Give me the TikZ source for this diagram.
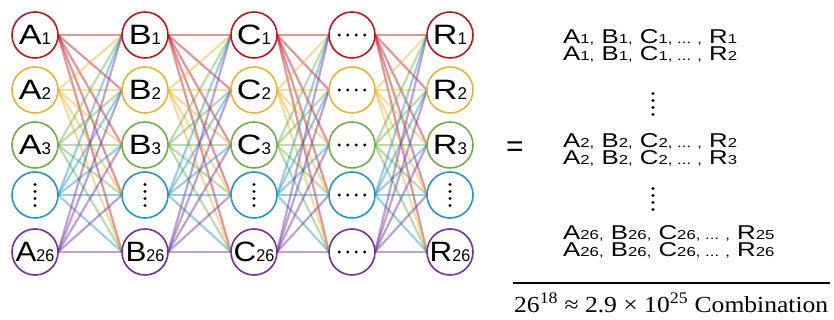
\documentclass[tikz,border=0pt]{standalone}
\usepackage{fontspec}
\setmainfont{Liberation Sans}
\newfontfamily\serifF{Liberation Serif}
\definecolor{cR}{RGB}{192,20,30}
\definecolor{cY}{RGB}{232,180,45}
\definecolor{cG}{RGB}{112,173,71}
\definecolor{cB}{RGB}{35,150,200}
\definecolor{cP}{RGB}{112,48,160}
\newcommand{\lbl}[2]{\scalebox{1.22}[1]{\fontsize{28}{28}\selectfont #1}{\fontsize{17}{17}\selectfont #2}}
\newcommand{\lblw}[2]{\scalebox{1.12}[1]{\fontsize{28}{28}\selectfont #1}\scalebox{0.95}[1]{\fontsize{17}{17}\selectfont #2}}
\newcommand{\rs}[1]{{\fontsize{13}{13}\selectfont #1}}
\newcommand{\rline}[1]{\scalebox{1.29}[1]{\fontsize{20}{20}\selectfont #1}}
\newcommand{\rpair}[2]{\rlap{\raisebox{-17pt}{\rline{#2}}}\rline{#1}}
\newcommand{\vdotsfour}{\tikz[x=1pt,y=1pt]{\foreach \k in {0,1,2,3}\fill (0,-7*\k) circle (1.7);}}
\newcommand{\hdotsfour}{\tikz[x=1pt,y=1pt]{\foreach \k in {0,1,2,3}\fill (8.5*\k,0) circle (1.7);}}
\begin{document}
\begin{tikzpicture}[x=1pt,y=-1pt,
  nd/.style={circle,draw=#1,line width=1.6pt,fill=white,minimum size=46pt,inner sep=0pt},
  ln/.style={draw=#1,line width=2.2pt,opacity=0.45},
  rt/.style={anchor=base west,inner sep=0pt}]
\useasboundingbox (0,0) rectangle (834,320);
\foreach \c/\cx in {0/35,1/145,2/254,3/352,4/450}{
  \foreach \r/\ry in {0/35,1/90,2/145,3/195,4/252}{
    \coordinate (p\c\r) at (\cx,\ry);
  }
}
% connectors
\foreach \c [evaluate=\c as \n using int(\c+1)] in {0,1,2,3}{
  \foreach \r/\cc in {0/cR,1/cY,2/cG,3/cB,4/cP}{
    \foreach \t in {0,1,2,3,4}{
      \draw[ln=\cc] ([xshift=23pt]p\c\r) -- ([xshift=-23pt]p\n\t);
    }
  }
}
% circles
\node[nd=cR] (A1) at (p00) {\lbl{A}{1}};
\node[nd=cY] (A2) at (p01) {\lbl{A}{2}};
\node[nd=cG] (A3) at (p02) {\lbl{A}{3}};
\node[nd=cB] (A4) at (p03) {\vdotsfour};
\node[nd=cP] (A26) at (p04) {\lblw{A}{26}};
\node[nd=cR] (B1) at (p10) {\lbl{B}{1}};
\node[nd=cY] (B2) at (p11) {\lbl{B}{2}};
\node[nd=cG] (B3) at (p12) {\lbl{B}{3}};
\node[nd=cB] (B4) at (p13) {\vdotsfour};
\node[nd=cP] (B26) at (p14) {\lblw{B}{26}};
\node[nd=cR] (C1) at (p20) {\lbl{C}{1}};
\node[nd=cY] (C2) at (p21) {\lbl{C}{2}};
\node[nd=cG] (C3) at (p22) {\lbl{C}{3}};
\node[nd=cB] (C4) at (p23) {\vdotsfour};
\node[nd=cP] (C26) at (p24) {\lblw{C}{26}};
\node[nd=cR] (D1) at (p30) {\hdotsfour};
\node[nd=cY] (D2) at (p31) {\hdotsfour};
\node[nd=cG] (D3) at (p32) {\hdotsfour};
\node[nd=cB] (D4) at (p33) {\hdotsfour};
\node[nd=cP] (D5) at (p34) {\hdotsfour};
\node[nd=cR] (R1) at (p40) {\lbl{R}{1}};
\node[nd=cY] (R2) at (p41) {\lbl{R}{2}};
\node[nd=cG] (R3) at (p42) {\lbl{R}{3}};
\node[nd=cB] (R4) at (p43) {\vdotsfour};
\node[nd=cP] (R26) at (p44) {\lblw{R}{26}};
% right side
\node[font=\fontsize{30}{30}\selectfont] (eq) at (515,149) {=};
\node[rt] (t12) at (563,44) {\rpair{A\rs{1,} B\rs{1,} C\rs{1, ... ,} R\rs{1}}{A\rs{1,} B\rs{1,} C\rs{1, ... ,} R\rs{2}}};
\node (d1) at (653,104) {\vdotsfour};
\node[rt] (t34) at (563,148) {\rpair{A\rs{2,} B\rs{2,} C\rs{2, ... ,} R\rs{2}}{A\rs{2,} B\rs{2,} C\rs{2, ... ,} R\rs{3}}};
\node (d2) at (653,199) {\vdotsfour};
\node[rt] (t56) at (563,240) {\rpair{A\rs{26,} B\rs{26,} C\rs{26, ... ,} R\rs{25}}{A\rs{26,} B\rs{26,} C\rs{26, ... ,} R\rs{26}}};
\coordinate (hl) at (513,283);
\coordinate (hr) at (830,283);
\draw[line width=2pt] (hl) -- (hr);
\node[anchor=west,inner sep=0pt] (f) at (514,303)
  {\resizebox{314pt}{\height}{\fontsize{23}{23}\serifF 26\textsuperscript{18} ≈ 2.9 × 10\textsuperscript{25} Combination}};
\end{tikzpicture}
\end{document}
